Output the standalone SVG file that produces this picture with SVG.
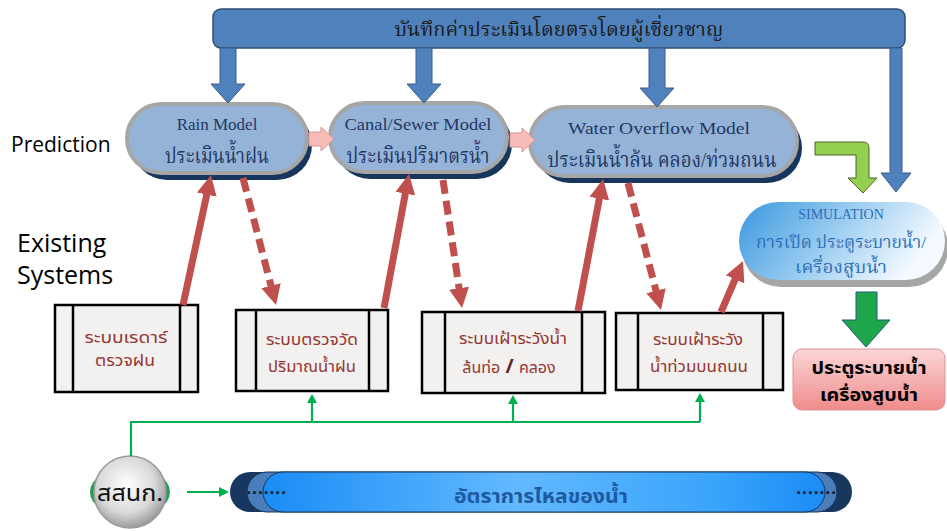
<svg xmlns="http://www.w3.org/2000/svg" width="947" height="531" viewBox="0 0 947 531">
  <style>
    .thai-serif { font-family: "Liberation Serif", "Noto Serif Thai", "Noto Sans Thai", serif; }
    .model-en { font-family: "Liberation Serif", serif; font-size: 17px; fill: #1f3864; text-anchor: middle; }
    .model-th { font-family: "Liberation Serif", "Noto Serif Thai", "Noto Sans Thai", serif; font-size: 22px; fill: #1f3864; text-anchor: middle; }
    .pill { fill: #95b3d7; stroke: #a6a6a6; stroke-width: 4; }
    .pill-shadow { fill: #17365d; }
    .blue-arrow { fill: #4f81bd; stroke: #385d8a; stroke-width: 1; }
    .pink-arrow { fill: #f7bcb8; stroke: #d99594; stroke-width: 1; }
    .sys-box { fill: #f2f1ef; stroke: #000; stroke-width: 2.5; }
    .sys-line { stroke: #000; stroke-width: 2.5; }
    .sys-text { font-family: "Noto Sans Thai", "DejaVu Sans", sans-serif; font-size: 16px; fill: #953735; text-anchor: middle; }
    .red-solid { stroke: #c0504d; stroke-width: 7; fill: none; marker-end: url(#redHead); }
    .red-dash { stroke: #c0504d; stroke-width: 7; fill: none; stroke-dasharray: 14 7; marker-end: url(#redHead); }
    .green-line { stroke: #00b050; stroke-width: 2.2; fill: none; }
    .green-head { fill: #00b050; }
    .side-label { font-family: "Open Sans", "Noto Sans", sans-serif; fill: #000; }
  </style>
  <defs>
    <marker id="redHead" markerUnits="userSpaceOnUse" viewBox="0 0 20 20" markerWidth="20" markerHeight="20" refX="2" refY="10" orient="auto">
      <path d="M0,0 L20,10 L0,20 Z" fill="#c0504d"/>
    </marker>
    <linearGradient id="simFill" x1="0" y1="0" x2="1" y2="0.3">
      <stop offset="0" stop-color="#3a97de"/>
      <stop offset="0.45" stop-color="#8cc5ee"/>
      <stop offset="1" stop-color="#f4faff"/>
    </linearGradient>
    <linearGradient id="outFill" x1="0" y1="0" x2="0" y2="1">
      <stop offset="0" stop-color="#fbd6d6"/>
      <stop offset="1" stop-color="#f08c8c"/>
    </linearGradient>
    <linearGradient id="flowFill" x1="0" y1="0" x2="1" y2="0">
      <stop offset="0" stop-color="#1a8cf5"/>
      <stop offset="0.45" stop-color="#62b9ff"/>
      <stop offset="0.8" stop-color="#3aa4fb"/>
      <stop offset="1" stop-color="#1a8cf5"/>
    </linearGradient>
    <radialGradient id="discFill" cx="0.45" cy="0.4" r="0.65">
      <stop offset="0" stop-color="#ffffff"/>
      <stop offset="0.6" stop-color="#d9d9d9"/>
      <stop offset="1" stop-color="#8c8c8c"/>
    </radialGradient>
  </defs>

  <rect width="947" height="531" fill="#ffffff"/>

  <!-- side labels -->
  <text class="side-label" x="11" y="152" font-size="21">Prediction</text>
  <text class="side-label" x="17" y="252" font-size="25">Existing</text>
  <text class="side-label" x="17" y="284" font-size="25">Systems</text>

  <!-- expert input bar -->
  <g id="expert-bar">
    <rect x="213" y="9" width="692" height="39" rx="8" fill="#4f81bd" stroke="#2c4d75" stroke-width="1.5"/>
    <text class="thai-serif" x="559" y="36" font-size="20" fill="#1a1a1a" text-anchor="middle">บันทึกค่าประเมินโดยตรงโดยผู้เชี่ยวชาญ</text>
  </g>

  <!-- prediction models -->
  <g id="rain-model">
    <rect class="pill-shadow" x="132" y="110" width="180" height="70" rx="35"/>
    <rect class="pill" x="127" y="104" width="180" height="69" rx="34.5"/>
    <text class="model-en" x="217" y="130">Rain Model</text>
    <text class="model-th" x="217" y="163" textLength="104" lengthAdjust="spacingAndGlyphs">ประเมินน้ำฝน</text>
  </g>
  <g id="canal-model">
    <rect class="pill-shadow" x="335" y="109" width="177" height="70" rx="35"/>
    <rect class="pill" x="330" y="103" width="177" height="69" rx="34.5"/>
    <text class="model-en" x="418" y="130" textLength="147" lengthAdjust="spacingAndGlyphs">Canal/Sewer Model</text>
    <text class="model-th" x="418" y="163" textLength="143" lengthAdjust="spacingAndGlyphs">ประเมินปริมาตรน้ำ</text>
  </g>
  <g id="overflow-model">
    <rect class="pill-shadow" x="535" y="113" width="267" height="70" rx="35"/>
    <rect class="pill" x="530" y="107" width="267" height="69" rx="34.5"/>
    <text class="model-en" x="659" y="134" textLength="182" lengthAdjust="spacingAndGlyphs">Water Overflow Model</text>
    <text class="model-th" x="662" y="167" textLength="229" lengthAdjust="spacingAndGlyphs">ประเมินน้ำล้น คลอง/ท่วมถนน</text>
  </g>

  <!-- simulation -->
  <g id="simulation">
    <rect x="742" y="208" width="206" height="79" rx="39" fill="#a6a6a6"/>
    <rect x="739" y="202" width="206" height="78" rx="39" fill="url(#simFill)"/>
    <text x="841" y="219" font-family="Liberation Serif, serif" font-size="14" fill="#2e6fb7" text-anchor="middle">SIMULATION</text>
    <text class="thai-serif" x="841" y="248" font-size="17" fill="#2e6fb7" text-anchor="middle" textLength="170" lengthAdjust="spacingAndGlyphs">การเปิด ประตูระบายน้ำ/</text>
    <text class="thai-serif" x="841" y="273" font-size="17" fill="#2e6fb7" text-anchor="middle" textLength="92" lengthAdjust="spacingAndGlyphs">เครื่องสูบน้ำ</text>
  </g>

  <!-- output devices -->
  <g id="gates-pumps">
    <rect x="793" y="349" width="152" height="61" rx="9" fill="url(#outFill)" stroke="#d99594" stroke-width="1"/>
    <text x="869" y="374" font-family="Noto Sans Thai, DejaVu Sans, sans-serif" font-size="17" font-weight="bold" fill="#000" text-anchor="middle" textLength="115" lengthAdjust="spacingAndGlyphs">ประตูระบายน้ำ</text>
    <text x="869" y="401" font-family="Noto Sans Thai, DejaVu Sans, sans-serif" font-size="17" font-weight="bold" fill="#000" text-anchor="middle" textLength="98" lengthAdjust="spacingAndGlyphs">เครื่องสูบน้ำ</text>
  </g>

  <!-- existing systems -->
  <g id="radar-system">
    <rect class="sys-box" x="55" y="305" width="143" height="87"/>
    <line class="sys-line" x1="73" y1="305" x2="73" y2="392"/>
    <line class="sys-line" x1="180" y1="305" x2="180" y2="392"/>
    <text class="sys-text" x="126" y="343" textLength="83" lengthAdjust="spacingAndGlyphs">ระบบเรดาร์</text>
    <text class="sys-text" x="125" y="366" textLength="60" lengthAdjust="spacingAndGlyphs">ตรวจฝน</text>
  </g>
  <g id="rain-gauge-system">
    <rect class="sys-box" x="236" y="310" width="152" height="81"/>
    <line class="sys-line" x1="256" y1="310" x2="256" y2="391"/>
    <line class="sys-line" x1="369" y1="310" x2="369" y2="391"/>
    <text class="sys-text" x="312" y="345" textLength="92" lengthAdjust="spacingAndGlyphs">ระบบตรวจวัด</text>
    <text class="sys-text" x="312" y="372" textLength="88" lengthAdjust="spacingAndGlyphs">ปริมาณน้ำฝน</text>
  </g>
  <g id="overflow-watch-system">
    <rect class="sys-box" x="422" y="312" width="183" height="81"/>
    <line class="sys-line" x1="445" y1="312" x2="445" y2="393"/>
    <line class="sys-line" x1="582" y1="312" x2="582" y2="393"/>
    <text class="sys-text" x="513" y="344" textLength="108" lengthAdjust="spacingAndGlyphs">ระบบเฝ้าระวังน้ำ</text>
    <text class="sys-text" x="509" y="373"><tspan>ล้นท่อ</tspan><tspan font-size="20" font-weight="bold" fill="#632523"> / </tspan><tspan>คลอง</tspan></text>
  </g>
  <g id="street-flood-system">
    <rect class="sys-box" x="616" y="313" width="167" height="77"/>
    <line class="sys-line" x1="638" y1="313" x2="638" y2="390"/>
    <line class="sys-line" x1="763" y1="313" x2="763" y2="390"/>
    <text class="sys-text" x="698" y="345" textLength="90" lengthAdjust="spacingAndGlyphs">ระบบเฝ้าระวัง</text>
    <text class="sys-text" x="699" y="372" textLength="98" lengthAdjust="spacingAndGlyphs">น้ำท่วมบนถนน</text>
  </g>

  <!-- data centre disc -->
  <g id="hii">
    <ellipse cx="130" cy="492" rx="40" ry="25" fill="#1e9e4e"/>
    <circle cx="130" cy="492" r="36" fill="url(#discFill)" stroke="#9a9a9a" stroke-width="1.5"/>
    <text x="130" y="501" font-family="Noto Sans Thai, DejaVu Sans, sans-serif" font-size="23" fill="#111" text-anchor="middle" textLength="66" lengthAdjust="spacingAndGlyphs">สสนก.</text>
  </g>

  <!-- flow rate bar -->
  <g id="flow-rate">
    <rect x="230" y="472" width="622" height="40" rx="20" fill="#17375e"/>
    <rect x="247" y="472" width="590" height="40" rx="20" fill="#4a7ebb" stroke="#17375e" stroke-width="1"/>
    <rect x="263" y="472" width="562" height="40" rx="20" fill="url(#flowFill)" stroke="#17375e" stroke-width="1"/>
    <text x="246" y="494" font-family="DejaVu Sans, sans-serif" font-size="14" font-weight="bold" fill="#0b1a33" letter-spacing="0.5">.......</text>
    <text x="796" y="494" font-family="DejaVu Sans, sans-serif" font-size="14" font-weight="bold" fill="#0b1a33" letter-spacing="0.5">.......</text>
    <text x="541" y="503" font-family="Noto Sans Thai, DejaVu Sans, sans-serif" font-size="20" font-weight="bold" fill="#1f5aa0" text-anchor="middle" textLength="174" lengthAdjust="spacingAndGlyphs">อัตราการไหลของน้ำ</text>
  </g>

  <!-- connectors -->
  <g id="connectors">
    <!-- expert bar down arrows -->
    <path class="blue-arrow" d="M220,48 L236,48 L236,84 L245,84 L228,103 L211,84 L220,84 Z"/>
    <path class="blue-arrow" d="M416,48 L432,48 L432,84 L441,84 L424,103 L407,84 L416,84 Z"/>
    <path class="blue-arrow" d="M649,48 L665,48 L665,88 L674,88 L657,107 L640,88 L649,88 Z"/>
    <path class="blue-arrow" d="M890,48 L902,48 L902,173 L911,173 L896,192 L881,173 L890,173 Z"/>
    <!-- prediction chain -->
    <path class="pink-arrow" d="M309,132 L321,132 L321,127 L334,139 L321,151 L321,146 L309,146 Z"/>
    <path class="pink-arrow" d="M510,133 L522,133 L522,128 L535,140 L522,152 L522,147 L510,147 Z"/>
    <!-- bent arrow into simulation -->
    <path d="M815,142 L863,142 Q869,142 869,148 L869,178 L877,178 L863,193 L848,178 L856,178 L856,155 L815,155 Z" fill="#92d050" stroke="#4f6228" stroke-width="1"/>
    <!-- simulation to outputs -->
    <path d="M856,292 L877,292 L877,320 L890,320 L866,347 L842,320 L856,320 Z" fill="#1ea64a" stroke="#215a7a" stroke-width="1"/>
    <!-- systems and models -->
    <line class="red-solid" x1="183" y1="305" x2="207.2" y2="192.6"/>
    <line class="red-dash" x1="243" y1="178" x2="271.5" y2="287.6"/>
    <line class="red-solid" x1="384" y1="308" x2="405.7" y2="191.7"/>
    <line class="red-dash" x1="443" y1="180" x2="459.4" y2="290.2"/>
    <line class="red-solid" x1="578" y1="311" x2="599.7" y2="196.7"/>
    <line class="red-dash" x1="628" y1="183" x2="656.5" y2="292.6"/>
    <line class="red-solid" x1="721" y1="312" x2="735.9" y2="277.5"/>
    <!-- data feed lines -->
    <polyline class="green-line" points="131,456 131,422 700,422"/>
    <line class="green-line" x1="312" y1="422" x2="312" y2="402"/>
    <polygon class="green-head" points="307,403 317,403 312,394"/>
    <line class="green-line" x1="513" y1="422" x2="513" y2="403"/>
    <polygon class="green-head" points="508,404 518,404 513,395"/>
    <line class="green-line" x1="700" y1="422" x2="700" y2="401"/>
    <polygon class="green-head" points="695,402 705,402 700,393"/>
    <line class="green-line" x1="187" y1="492" x2="220" y2="492"/>
    <polygon class="green-head" points="219,487 219,497 229,492"/>
  </g>
</svg>
